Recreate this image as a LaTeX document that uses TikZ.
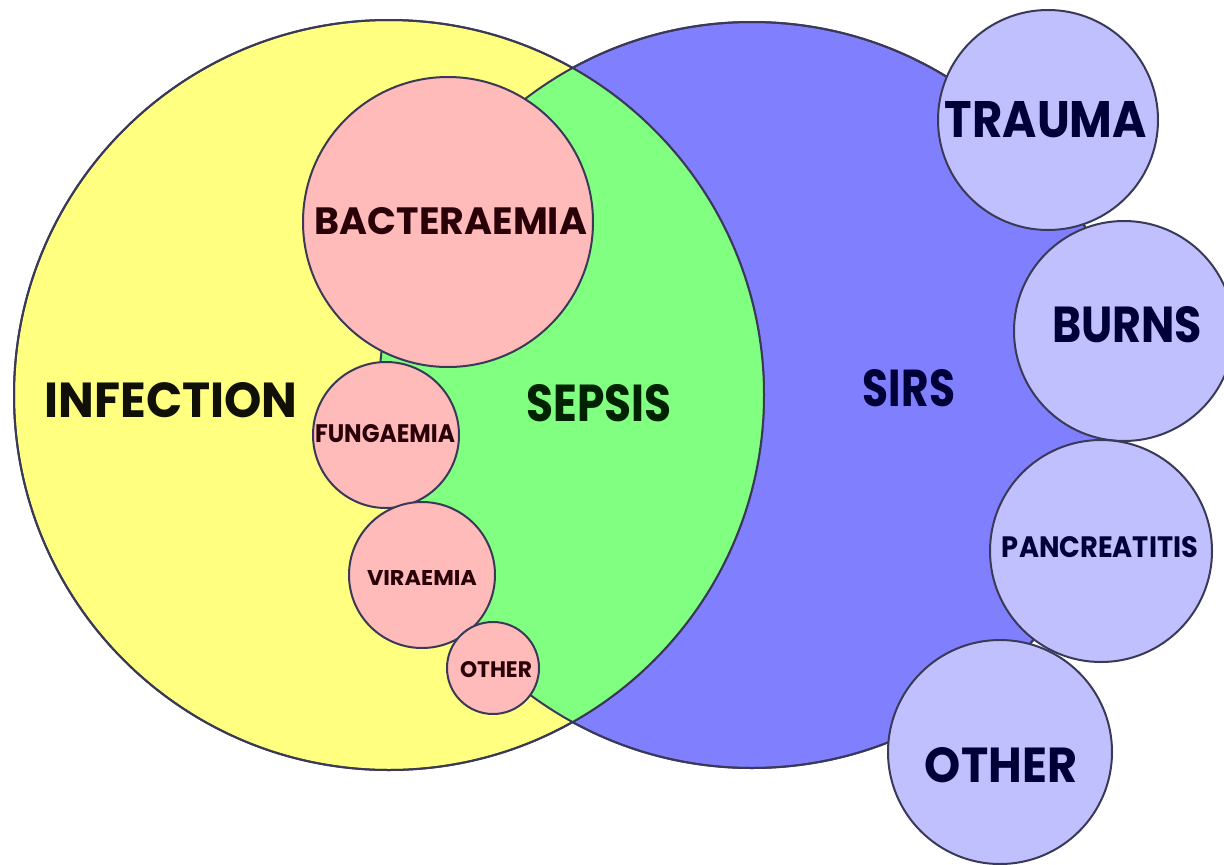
\documentclass[tikz,border=0pt]{standalone}
\usepackage{fontspec}
\usepackage{graphicx}
\setmainfont{Poppins}
\definecolor{cyel}{HTML}{FFFF80}
\definecolor{cgrn}{HTML}{80FF80}
\definecolor{cblu}{HTML}{8080FF}
\definecolor{cpnk}{HTML}{FFBABA}
\definecolor{clbl}{HTML}{C0C0FF}
\definecolor{cline}{HTML}{3A3A58}
\definecolor{tblk}{HTML}{101008}
\definecolor{tgrn}{HTML}{002200}
\definecolor{tnav}{HTML}{000038}
\definecolor{tmar}{HTML}{2A0008}
\newcommand{\fitlbl}[3]{\resizebox{#1pt}{#2pt}{\bfseries #3}}
\tikzset{
  disc/.style={circle, draw=cline, line width=2pt, inner sep=0pt},
  lbl/.style={inner sep=0pt, anchor=center}
}
\begin{document}
\begin{tikzpicture}[x=1pt,y=-1pt]
\useasboundingbox[fill=white] (0,0) rectangle (1224,865);
% big circles
\node[disc, fill=cblu, minimum size=746pt] (sirsc) at (752,395) {};
\node[disc, fill=cyel, minimum size=750pt] (infc) at (389,395) {};
\begin{scope}
  \clip (389,395) circle[radius=375pt];
  \fill[cgrn] (752,395) circle[radius=373pt];
\end{scope}
\draw[cline, line width=2pt] (752,395) circle[radius=373pt];
\draw[cline, line width=2pt] (389,395) circle[radius=375pt];
% right circles
\node[disc, fill=clbl, minimum size=220pt] (trc) at (1048,120) {};
\node[disc, fill=clbl, minimum size=220pt] (buc) at (1124,331) {};
\node[disc, fill=clbl, minimum size=222pt] (pac) at (1101,551) {};
\node[disc, fill=clbl, minimum size=224pt] (otc) at (1000,752) {};
% pink circles
\node[disc, fill=cpnk, minimum size=290pt] (bac) at (448,222) {};
\node[disc, fill=cpnk, minimum size=146pt] (fuc) at (386,435) {};
\node[disc, fill=cpnk, minimum size=146pt] (vic) at (422,575) {};
\node[disc, fill=cpnk, minimum size=92pt] (osc) at (493,668) {};
% labels
\node[lbl, text=tblk] (inft) at (171,400) {\fitlbl{253}{35}{INFECTION}};
\node[lbl, text=tgrn] (sept) at (599,403) {\fitlbl{145}{37}{SEPSIS}};
\node[lbl, text=tnav] (sirt) at (909,388) {\fitlbl{92}{37}{SIRS}};
\node[lbl, text=tmar] (bact) at (451,221) {\fitlbl{272}{27}{BACTERAEMIA}};
\node[lbl, text=tmar] (funt) at (385,434) {\fitlbl{140}{18}{FUNGAEMIA}};
\node[lbl, text=tmar] (virt) at (422,578) {\fitlbl{110}{15}{VIRAEMIA}};
\node[lbl, text=tmar] (ost) at (496,670) {\fitlbl{72}{16}{OTHER}};
\node[lbl, text=tnav] (trt) at (1046,120) {\fitlbl{202}{36}{TRAUMA}};
\node[lbl, text=tnav] (but) at (1127,325) {\fitlbl{150}{36}{BURNS}};
\node[lbl, text=tnav] (pat) at (1100,547) {\fitlbl{196}{21}{PANCREATITIS}};
\node[lbl, text=tnav] (ott) at (1001,765) {\fitlbl{152}{35}{OTHER}};
\end{tikzpicture}
\end{document}
